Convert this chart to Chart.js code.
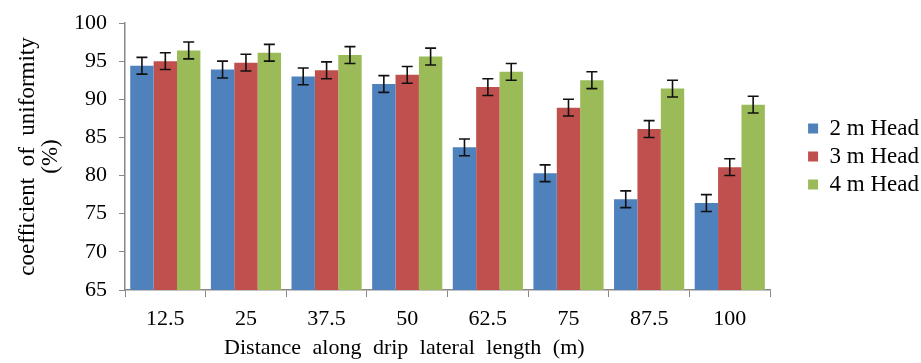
<!DOCTYPE html>
<html>
<head>
<meta charset="utf-8">
<script src="https://cdn.jsdelivr.net/npm/chart.js@4"></script>
<style>
  body { margin: 0; background: #fff; }
  #wrap { width: 921px; height: 363px; }
</style>
</head>
<body>
<div id="wrap"><canvas id="chart1"></canvas></div>
<script>
// data
const categories = ["12.5", "25", "37.5", "50", "62.5", "75", "87.5", "100"];
const head2 = [94.4, 93.9, 93.0, 92.0, 83.7, 80.3, 76.9, 76.4];
const head3 = [95.0, 94.8, 93.8, 93.2, 91.6, 88.9, 86.1, 81.1];
const head4 = [96.4, 96.1, 95.8, 95.6, 93.6, 92.5, 91.4, 89.3];
const err2 = [1.1, 1.1, 1.1, 1.1, 1.1, 1.1, 1.1, 1.1];
const err3 = [1.1, 1.1, 1.1, 1.1, 1.1, 1.1, 1.1, 1.1];
const err4 = [1.1, 1.1, 1.1, 1.1, 1.1, 1.1, 1.1, 1.1];
const yTicks = [65, 70, 75, 80, 85, 90, 95, 100];
const xTitle = 'Distance along drip lateral length (m)';

const serif = "'Liberation Serif', 'Times New Roman', serif";

// plugin kecil untuk error bar
const errorBars = {
    id: 'errorBars',
    afterDatasetsDraw(chart) {
        const ctx = chart.ctx;
        const y = chart.scales.y;
        ctx.save();
        ctx.strokeStyle = '#111';
        ctx.lineWidth = 1.6;
        chart.data.datasets.forEach((ds, i) => {
            const meta = chart.getDatasetMeta(i);
            meta.data.forEach((bar, j) => {
                const v = ds.data[j];
                const e = ds.errors[j];
                const yTop = y.getPixelForValue(v + e);
                const yBot = y.getPixelForValue(v - e);
                const x = bar.x;
                ctx.beginPath();
                ctx.moveTo(x, yTop); ctx.lineTo(x, yBot);
                ctx.moveTo(x - 5.5, yTop); ctx.lineTo(x + 5.5, yTop);
                ctx.moveTo(x - 5.5, yBot); ctx.lineTo(x + 5.5, yBot);
                ctx.stroke();
            });
        });
        ctx.restore();
    }
};

// judul sumbu x digambar sendiri (agak ke kiri seperti aslinya)
const xAxisTitle = {
    id: 'xAxisTitle',
    afterDraw(chart) {
        const ctx = chart.ctx;
        const area = chart.chartArea;
        ctx.save();
        ctx.font = "22px " + serif;
        ctx.fillStyle = '#000';
        ctx.textAlign = 'center';
        ctx.textBaseline = 'middle';
        ctx.wordSpacing = '6px';
        ctx.fillText(xTitle, area.left + (area.right - area.left) * 0.433, area.bottom + 58);
        ctx.restore();
    }
};

const ctx = document.getElementById('chart1').getContext('2d');
new Chart(ctx, {
    type: 'bar',
    data: {
        labels: categories,
        datasets: [
            { label: '2 m Head', data: head2, errors: err2, backgroundColor: '#4F81BD' },
            { label: '3 m Head', data: head3, errors: err3, backgroundColor: '#C0504D' },
            { label: '4 m Head', data: head4, errors: err4, backgroundColor: '#9BBB59' }
        ]
    },
    options: {
        responsive: true,
        maintainAspectRatio: false,
        animation: false,
        categoryPercentage: 0.87,
        barPercentage: 1.0,
        layout: { padding: { top: 5, right: -8, left: 16, bottom: 22 } },
        plugins: {
            tooltip: { enabled: false },
            legend: {
                position: 'right',
                fullSize: false,
                labels: {
                    boxWidth: 10,
                    boxHeight: 10,
                    padding: 5,
                    color: '#000',
                    font: { family: serif, size: 23 }
                }
            }
        },
        scales: {
            x: {
                grid: {
                    drawOnChartArea: false,
                    drawTicks: true,
                    tickLength: 7,
                    color: '#888'
                },
                border: { color: '#888', width: 1.5 },
                ticks: { color: '#000', padding: 11, font: { family: serif, size: 22, lineHeight: 1.0 } }
            },
            y: {
                min: 65,
                max: 100,
                afterBuildTicks: (axis) => { axis.ticks = yTicks.map(v => ({ value: v })); },
                grid: {
                    drawOnChartArea: false,
                    drawTicks: true,
                    tickLength: 6,
                    color: '#888'
                },
                border: { color: '#888', width: 1.5 },
                ticks: { color: '#000', padding: 12, font: { family: serif, size: 22, lineHeight: 1.0 } },
                title: {
                    display: true,
                    text: ['coefficient  of  uniformity', '(%)'],
                    color: '#000',
                    padding: { top: 0, bottom: 0 },
                    font: { family: serif, size: 23, lineHeight: 1.0 }
                }
            },
            // sumbu kosong di kanan, cuma untuk memberi jarak ke legenda
            gap: {
                position: 'right',
                display: true,
                grid: { display: false },
                border: { display: false },
                ticks: { display: false },
                afterFit: (axis) => { axis.width = 33; }
            }
        }
    },
    plugins: [errorBars, xAxisTitle]
});
</script>
</body>
</html>
